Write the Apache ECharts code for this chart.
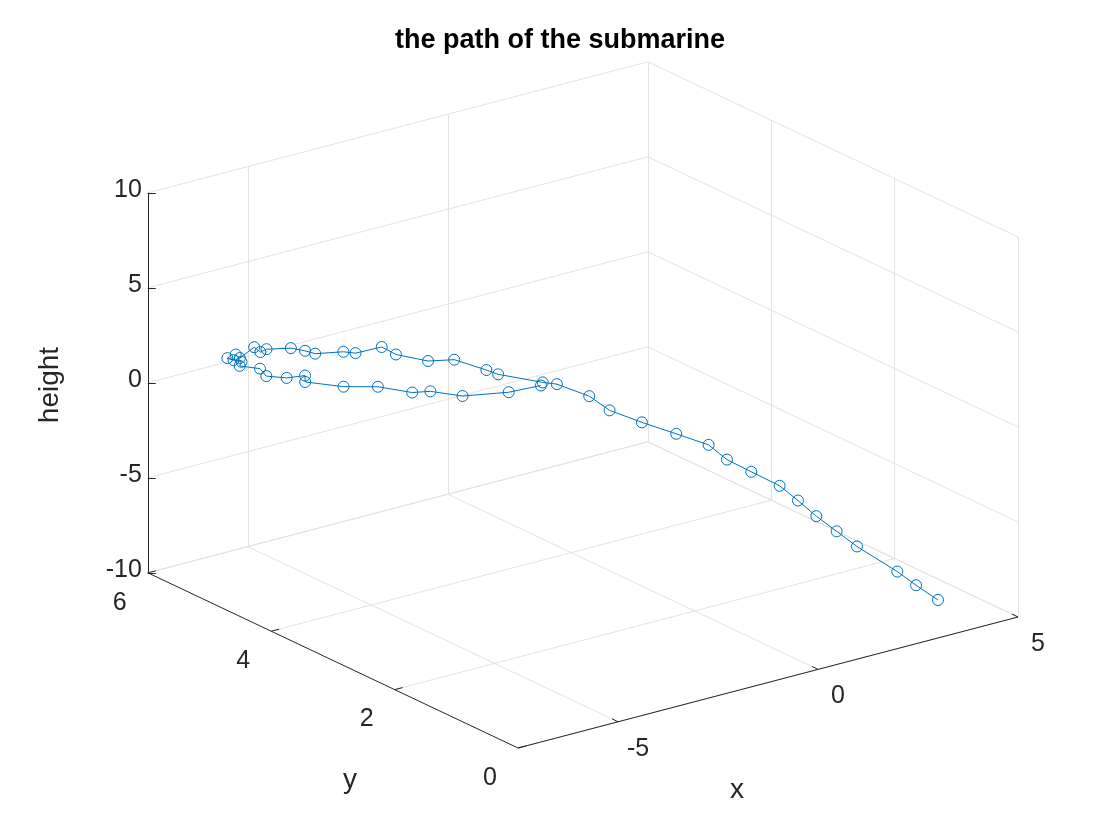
<!DOCTYPE html>
<html>
<head>
<meta charset="utf-8">
<script src="https://cdn.jsdelivr.net/npm/echarts@6/dist/echarts.min.js"></script>
<style>
	body { margin: 0; background: #fff; }
</style>
</head>
<body>
<div id="main" style="width:1120px;height:840px;"></div>
<script type="text/javascript">
// path of the submarine (x, y, height)
var pathX = [3.0, 2.76, 2.6, 1.9, 1.7, 1.5, 1.35, 1.2, 0.8, 0.5, 0.35, -0.15, -0.7, -1.2, -1.4, -1.9, -2.1,
	-3.06, -3.2, -3.85, -4.35, -5.0, -5.2, -5.7, -5.85, -6.4, -6.5, -6.7, -7.0, -7.0, -7.0, -7.05, -7.0, -6.9, -6.9,
	-6.7, -6.9, -6.7, -6.85, -6.65, -6.5, -6.65, -6.0, -5.45, -4.9, -4.6, -3.95, -2.95, -2.3];
var pathY = [0, 0.2, 0.4, 0.6, 0.8, 1.0, 1.2, 1.4, 1.6, 1.8, 2.0, 2.2, 2.4, 2.6, 2.8, 3.0, 3.1,
	3.2, 3.3, 3.4, 3.5, 3.6, 3.7, 3.8, 3.9, 4.0, 4.1, 4.2, 4.4, 4.5, 4.6, 4.8, 4.9, 5.0, 5.1,
	5.0, 4.9, 4.7, 4.5, 4.3, 4.1, 4.0, 3.8, 3.6, 3.4, 3.3, 3.2, 3.1, 3.0];
var pathZ = [-8.0, -7.4, -6.9, -5.5, -4.9, -4.3, -3.7, -3.15, -2.5, -2.0, -1.45, -0.9, -0.3, 0.3, 0.85, 1.45, 1.5,
	2.3, 2.45, 3.2, 3.25, 3.8, 4.15, 3.95, 3.95, 4.0, 4.05, 4.15, 3.95, 3.65, 3.75, 2.9, 2.9, 2.4, 2.35,
	2.2, 2.25, 2.3, 2.3, 2.4, 2.75, 2.65, 2.35, 2.35, 2.05, 2.1, 1.65, 1.45, 1.6];

var xTicks = [-5, 0, 5];
var yTicks = [0, 2, 4, 6];
var zTicks = [-10, -5, 0, 5, 10];
var xLim = [-7.5, 5], yLim = [0, 6], zLim = [-10, 10];

// simple oblique projection of the 3D box onto the page
var origin = [518, 748];
var ex = [40, -10.48], ey = [-61.7, -29.2], ez = [0, -19];
function project(x, y, z) {
	var u = x - xLim[0], w = z - zLim[0];
	return [origin[0] + u * ex[0] + y * ey[0] + w * ez[0],
		origin[1] + u * ex[1] + y * ey[1] + w * ez[1]];
}

var grid = [];
function seg(a, b) { grid.push({ coords: [a, b] }); }
// floor z = min
xTicks.forEach(function (x) { seg(project(x, yLim[0], zLim[0]), project(x, yLim[1], zLim[0])); });
yTicks.forEach(function (y) { seg(project(xLim[0], y, zLim[0]), project(xLim[1], y, zLim[0])); });
// back wall y = max
xTicks.forEach(function (x) { seg(project(x, yLim[1], zLim[0]), project(x, yLim[1], zLim[1])); });
zTicks.forEach(function (z) { seg(project(xLim[0], yLim[1], z), project(xLim[1], yLim[1], z)); });
// side wall x = max
yTicks.forEach(function (y) { seg(project(xLim[1], y, zLim[0]), project(xLim[1], y, zLim[1])); });
zTicks.forEach(function (z) { seg(project(xLim[1], yLim[0], z), project(xLim[1], yLim[1], z)); });

var axes = [
	{ coords: [project(xLim[0], yLim[0], zLim[0]), project(xLim[1], yLim[0], zLim[0])] },
	{ coords: [project(xLim[0], yLim[0], zLim[0]), project(xLim[0], yLim[1], zLim[0])] },
	{ coords: [project(xLim[0], yLim[1], zLim[0]), project(xLim[0], yLim[1], zLim[1])] }
];
var ticks = [];
xTicks.forEach(function (x) { var p = project(x, 0, zLim[0]); ticks.push({ coords: [p, [p[0] - 6, p[1] - 3]] }); });
yTicks.forEach(function (y) { var p = project(xLim[0], y, zLim[0]); ticks.push({ coords: [p, [p[0] + 8, p[1] - 2]] }); });
zTicks.forEach(function (z) { var p = project(xLim[0], yLim[1], z); ticks.push({ coords: [p, [p[0] + 8, p[1]]] }); });

var pathData = pathX.map(function (x, i) { return project(x, pathY[i], pathZ[i]); });

var labelFont = { fontFamily: 'Helvetica, Arial, sans-serif', fontSize: 25, fill: '#262626' };
var graphics = [];
function txt(s, x, y, align, extra) {
	graphics.push(Object.assign({ type: 'text', x: x, y: y,
		style: Object.assign({ text: s, textAlign: align, textVerticalAlign: 'middle' }, labelFont, extra || {}) }));
}
xTicks.forEach(function (x) { var p = project(x, 0, zLim[0]); txt(String(x), p[0] + 20, p[1] + 27, 'center'); });
yTicks.forEach(function (y) { var p = project(xLim[0], y, zLim[0]); txt(String(y), p[0] - 28, p[1] + 30, 'center'); });
zTicks.forEach(function (z) { var p = project(xLim[0], yLim[1], z); txt(String(z), p[0] - 6, p[1] - 3, 'right'); });
txt('x', 737, 790, 'center', { fontSize: 28 });
txt('y', 350, 780, 'center', { fontSize: 28 });
graphics.push({ type: 'text', x: 50, y: 385, rotation: Math.PI / 2,
	style: Object.assign({ text: 'height', textAlign: 'center', textVerticalAlign: 'middle' }, labelFont, { fontSize: 28 }) });

var myChart = echarts.init(document.getElementById('main'));
var option = {
	backgroundColor: '#fff',
	animation: false,
	title: {
		text: 'the path of the submarine', left: 'center', top: 22,
		textStyle: { fontFamily: 'Helvetica, Arial, sans-serif', fontSize: 27, fontWeight: 'bold', color: '#000' }
	},
	grid: { left: 0, right: 0, top: 0, bottom: 0 },
	xAxis: { type: 'value', min: 0, max: 1120, show: false },
	yAxis: { type: 'value', min: 0, max: 840, inverse: true, show: false },
	graphic: graphics,
	series: [
		{ type: 'lines', coordinateSystem: 'cartesian2d', data: grid, silent: true,
			lineStyle: { color: '#e3e3e3', width: 1, opacity: 1 } },
		{ type: 'lines', coordinateSystem: 'cartesian2d', data: axes.concat(ticks), silent: true,
			lineStyle: { color: '#262626', width: 1, opacity: 1 } },
		{ type: 'line', data: pathData, symbol: 'circle', symbolSize: 11,
			itemStyle: { color: 'rgba(0,0,0,0)', borderColor: '#0072BD', borderWidth: 1 },
			lineStyle: { color: '#0072BD', width: 1 } }
	]
};
myChart.setOption(option);
</script>
</body>
</html>
